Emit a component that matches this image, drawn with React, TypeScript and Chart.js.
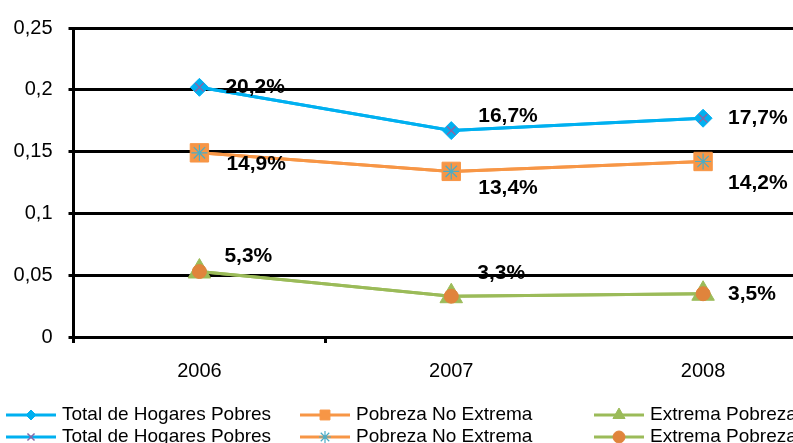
import React, { useEffect, useRef } from 'react';
import { Chart, registerables } from 'chart.js';
import { drawPoint } from 'chart.js/helpers';

Chart.register(...registerables);

// ---- data ----
const categories = ['2006', '2007', '2008'];
const totalHogaresPobres = [0.202, 0.167, 0.177];
const pobrezaNoExtrema = [0.149, 0.134, 0.142];
const extremaPobreza = [0.053, 0.033, 0.035];
const yTicks = [0, 0.05, 0.1, 0.15, 0.2, 0.25];
const seriesNames = ['Total de Hogares Pobres', 'Pobreza No Extrema', 'Extrema Pobreza'];
const titleText = '2006-2008';

// ---- style ----
const FONT = "'Liberation Sans', Arial, sans-serif";
const BLUE = '#00B0F0';
const PURPLE = '#8468A8';
const ORANGE = '#F79646';
const TEAL = '#4BACC6';
const GREEN = '#9BBB59';
const DARK_ORANGE = '#E0843C';

const fmtTick = (v: number) => String(parseFloat(v.toFixed(2))).replace('.', ',');
const fmtPct = (v: number) => (v * 100).toFixed(1).replace('.', ',') + '%';

// data label offsets (dx, dy) relative to each point, per base series
const labelOffsets = [
  [[26, 0], [27, -14], [25, 0]],
  [[27, 11], [27, 17], [25, 22]],
  [[25, -15], [26, -23], [25, 0]],
];

const legendCols = [6, 300, 594];
const legendRows = [415, 437];

const titlePlugin = {
  id: 'cutTitle',
  afterDraw(chart: any) {
    const ctx = chart.ctx;
    ctx.save();
    ctx.fillStyle = '#000';
    ctx.font = `bold 27px ${FONT}`;
    ctx.textAlign = 'center';
    ctx.textBaseline = 'alphabetic';
    ctx.fillText(titleText, chart.width / 2, 0);
    ctx.restore();
  },
};

const labelPlugin = {
  id: 'valueLabels',
  afterDatasetsDraw(chart: any) {
    const ctx = chart.ctx;
    ctx.save();
    ctx.fillStyle = '#000';
    ctx.font = `bold 21px ${FONT}`;
    ctx.textAlign = 'left';
    ctx.textBaseline = 'middle';
    chart.data.datasets.forEach((ds: any, i: number) => {
      if (ds.labelSeries === undefined) return;
      const meta = chart.getDatasetMeta(i);
      meta.data.forEach((el: any, j: number) => {
        const [dx, dy] = labelOffsets[ds.labelSeries][j];
        ctx.fillText(fmtPct(ds.data[j]), el.x + dx, el.y + dy);
      });
    });
    ctx.restore();
  },
};

const legendPlugin = {
  id: 'gridLegend',
  afterDraw(chart: any) {
    const ctx = chart.ctx;
    ctx.save();
    chart.data.datasets.forEach((ds: any, i: number) => {
      const col = i % 3;
      const row = Math.floor(i / 3);
      const x = legendCols[col];
      const y = legendRows[row];
      ctx.strokeStyle = ds.borderColor;
      ctx.lineWidth = 3;
      ctx.beginPath();
      ctx.moveTo(x, y);
      ctx.lineTo(x + 50, y);
      ctx.stroke();
      ctx.fillStyle = ds.pointBackgroundColor;
      ctx.strokeStyle = ds.pointBorderColor;
      ctx.lineWidth = ds.pointBorderWidth;
      drawPoint(ctx, { pointStyle: ds.pointStyle, radius: ds.legendRadius, rotation: 0, borderWidth: ds.pointBorderWidth } as any, x + 25, y);
      ctx.fillStyle = '#000';
      ctx.font = `19px ${FONT}`;
      ctx.textAlign = 'left';
      ctx.textBaseline = 'middle';
      ctx.fillText(ds.label, x + 56, y);
    });
    ctx.restore();
  },
};

export default function App() {
  const ref = useRef<HTMLCanvasElement | null>(null);

  useEffect(() => {
    if (!ref.current) return;
    const common = { borderWidth: 3, tension: 0, fill: false };
    const chart = new Chart(ref.current, {
      type: 'line',
      data: {
        labels: categories,
        datasets: [
          {
            ...common, label: seriesNames[0], data: totalHogaresPobres, labelSeries: 0,
            borderColor: BLUE, backgroundColor: BLUE,
            pointStyle: 'rectRot', pointRadius: 9, pointBackgroundColor: BLUE, pointBorderColor: BLUE, pointBorderWidth: 1,
            legendRadius: 5, order: 1,
          },
          {
            ...common, label: seriesNames[1], data: pobrezaNoExtrema, labelSeries: 1,
            borderColor: ORANGE, backgroundColor: ORANGE,
            pointStyle: 'rect', pointRadius: 13, pointBackgroundColor: ORANGE, pointBorderColor: ORANGE, pointBorderWidth: 1,
            legendRadius: 7, order: 1,
          },
          {
            ...common, label: seriesNames[2], data: extremaPobreza, labelSeries: 2,
            borderColor: GREEN, backgroundColor: GREEN,
            pointStyle: 'triangle', pointRadius: 13, pointBackgroundColor: GREEN, pointBorderColor: GREEN, pointBorderWidth: 1,
            legendRadius: 7, order: 1,
          },
          {
            ...common, label: seriesNames[0], data: totalHogaresPobres,
            borderColor: BLUE, backgroundColor: PURPLE,
            pointStyle: 'crossRot', pointRadius: 6, pointBackgroundColor: PURPLE, pointBorderColor: PURPLE, pointBorderWidth: 1.5,
            legendRadius: 5, order: 0,
          },
          {
            ...common, label: seriesNames[1], data: pobrezaNoExtrema,
            borderColor: ORANGE, backgroundColor: TEAL,
            pointStyle: 'star', pointRadius: 8, pointBackgroundColor: TEAL, pointBorderColor: TEAL, pointBorderWidth: 1.2,
            legendRadius: 6, order: 0,
          },
          {
            ...common, label: seriesNames[2], data: extremaPobreza,
            borderColor: GREEN, backgroundColor: DARK_ORANGE,
            pointStyle: 'circle', pointRadius: 7, pointBackgroundColor: DARK_ORANGE, pointBorderColor: DARK_ORANGE, pointBorderWidth: 1,
            legendRadius: 6, order: 0,
          },
        ] as any,
      },
      options: {
        responsive: false,
        animation: false,
        devicePixelRatio: 1,
        events: [],
        layout: { padding: { left: 0, right: 37, top: 22, bottom: 56 } },
        plugins: {
          legend: { display: false },
          tooltip: { enabled: false },
          title: { display: false },
        },
        scales: {
          x: {
            type: 'category',
            offset: true,
            grid: {
              display: true,
              drawOnChartArea: false,
              drawTicks: true,
              tickLength: 6,
              offset: true,
              lineWidth: 3,
              color: (c: any) => (c.index === 2 ? 'rgba(0,0,0,0)' : '#000'),
            },
            border: { display: false },
            ticks: { color: '#000', font: { family: FONT, size: 20 }, padding: 16, maxRotation: 0 },
            afterFit: (s: any) => { s.height = 50; },
          },
          y: {
            min: 0,
            max: 0.25,
            afterBuildTicks: (s: any) => { s.ticks = yTicks.map((v) => ({ value: v })); },
            grid: { color: '#000', lineWidth: 3, tickLength: 5, drawTicks: true },
            border: { display: true, color: '#000', width: 3 },
            ticks: {
              color: '#000',
              font: { family: FONT, size: 20 },
              padding: 16,
              callback: (v: any) => fmtTick(Number(v)),
            },
            afterFit: (s: any) => { s.width = 73.5; },
          },
        },
      } as any,
      plugins: [labelPlugin, legendPlugin, titlePlugin],
    });
    return () => chart.destroy();
  }, []);

  return (
    <div style={{ position: 'fixed', left: 0, top: 0, width: 793, height: 443, overflow: 'hidden', background: '#fff' }}>
      <canvas ref={ref} width={866} height={443} style={{ display: 'block' }} />
    </div>
  );
}
